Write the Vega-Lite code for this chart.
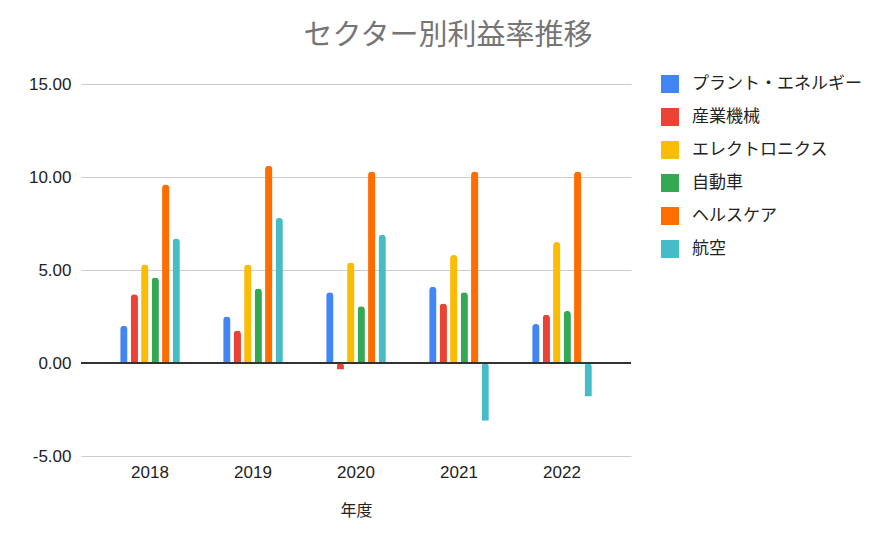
{
  "$schema": "https://vega.github.io/schema/vega-lite/v6.json",
  "width": 550,
  "height": 372,
  "autosize": {"type": "none"},
  "padding": {"left": 81, "top": 84, "right": 261, "bottom": 90},
  "background": "white",
  "config": {"view": {"stroke": null}},
  "title": {
    "text": "セクター別利益率推移",
    "font": "Noto Sans CJK JP",
    "fontSize": 29,
    "fontWeight": "normal",
    "color": "#757575",
    "anchor": "middle",
    "dx": 92,
    "offset": 24
  },
  "data": {
    "values": [
      {"year": "2018", "sector": "プラント・エネルギー", "rate": 2.0},
      {"year": "2018", "sector": "産業機械", "rate": 3.7},
      {"year": "2018", "sector": "エレクトロニクス", "rate": 5.3},
      {"year": "2018", "sector": "自動車", "rate": 4.6},
      {"year": "2018", "sector": "ヘルスケア", "rate": 9.6},
      {"year": "2018", "sector": "航空", "rate": 6.7},
      {"year": "2019", "sector": "プラント・エネルギー", "rate": 2.5},
      {"year": "2019", "sector": "産業機械", "rate": 1.75},
      {"year": "2019", "sector": "エレクトロニクス", "rate": 5.3},
      {"year": "2019", "sector": "自動車", "rate": 4.0},
      {"year": "2019", "sector": "ヘルスケア", "rate": 10.6},
      {"year": "2019", "sector": "航空", "rate": 7.8},
      {"year": "2020", "sector": "プラント・エネルギー", "rate": 3.8},
      {"year": "2020", "sector": "産業機械", "rate": -0.35},
      {"year": "2020", "sector": "エレクトロニクス", "rate": 5.4},
      {"year": "2020", "sector": "自動車", "rate": 3.05},
      {"year": "2020", "sector": "ヘルスケア", "rate": 10.3},
      {"year": "2020", "sector": "航空", "rate": 6.9},
      {"year": "2021", "sector": "プラント・エネルギー", "rate": 4.1},
      {"year": "2021", "sector": "産業機械", "rate": 3.2},
      {"year": "2021", "sector": "エレクトロニクス", "rate": 5.8},
      {"year": "2021", "sector": "自動車", "rate": 3.8},
      {"year": "2021", "sector": "ヘルスケア", "rate": 10.3},
      {"year": "2021", "sector": "航空", "rate": -3.1},
      {"year": "2022", "sector": "プラント・エネルギー", "rate": 2.1},
      {"year": "2022", "sector": "産業機械", "rate": 2.6},
      {"year": "2022", "sector": "エレクトロニクス", "rate": 6.5},
      {"year": "2022", "sector": "自動車", "rate": 2.8},
      {"year": "2022", "sector": "ヘルスケア", "rate": 10.3},
      {"year": "2022", "sector": "航空", "rate": -1.8}
    ]
  },
  "layer": [
    {
      "mark": {"type": "bar", "cornerRadiusEnd": 3.5},
      "encoding": {
        "x": {
          "field": "year",
          "type": "nominal",
          "scale": {"paddingInner": 0.39, "paddingOuter": 0.365},
          "axis": {
            "title": "年度",
            "titleFont": "Noto Sans CJK JP",
            "titleFontSize": 16,
            "titleFontWeight": "normal",
            "titleColor": "#222222",
            "titlePadding": 22,
            "labelFont": "Liberation Sans",
            "labelFontSize": 17,
            "labelColor": "#222222",
            "labelAngle": 0,
            "labelPadding": 8,
            "domain": false,
            "ticks": false,
            "grid": false
          }
        },
        "xOffset": {
          "field": "sector",
          "type": "nominal",
          "sort": ["プラント・エネルギー", "産業機械", "エレクトロニクス", "自動車", "ヘルスケア", "航空"],
          "scale": {"paddingInner": 0.3, "paddingOuter": 0.15}
        },
        "y": {
          "field": "rate",
          "type": "quantitative",
          "scale": {"domain": [-5, 15], "nice": false},
          "axis": {
            "title": null,
            "values": [-5, 0, 5, 10, 15],
            "labelExpr": "replace(format(datum.value, '.2f'), '\u2212', '-')",
            "labelFont": "Liberation Sans",
            "labelFontSize": 17,
            "labelColor": "#222222",
            "labelPadding": 10,
            "domain": false,
            "ticks": false,
            "gridColor": "#cccccc",
            "gridWidth": 1
          }
        },
        "color": {
          "field": "sector",
          "type": "nominal",
          "sort": ["プラント・エネルギー", "産業機械", "エレクトロニクス", "自動車", "ヘルスケア", "航空"],
          "scale": {
            "domain": ["プラント・エネルギー", "産業機械", "エレクトロニクス", "自動車", "ヘルスケア", "航空"],
            "range": ["#4285F4", "#EA4335", "#FBBC04", "#34A853", "#FF6D01", "#46BDC6"]
          },
          "legend": {
            "title": null,
            "orient": "none",
            "legendX": 580,
            "legendY": -9,
            "symbolType": "square",
            "symbolSize": 324,
            "symbolStrokeWidth": 0,
            "symbolOpacity": 1,
            "labelFont": "Noto Sans CJK JP",
            "labelFontSize": 17,
            "labelColor": "#222222",
            "labelOffset": 13,
            "rowPadding": 15,
            "labelLimit": 250
          }
        }
      }
    },
    {
      "mark": {"type": "rule", "color": "#333333", "strokeWidth": 1},
      "encoding": {"y": {"datum": 0}}
    }
  ]
}
